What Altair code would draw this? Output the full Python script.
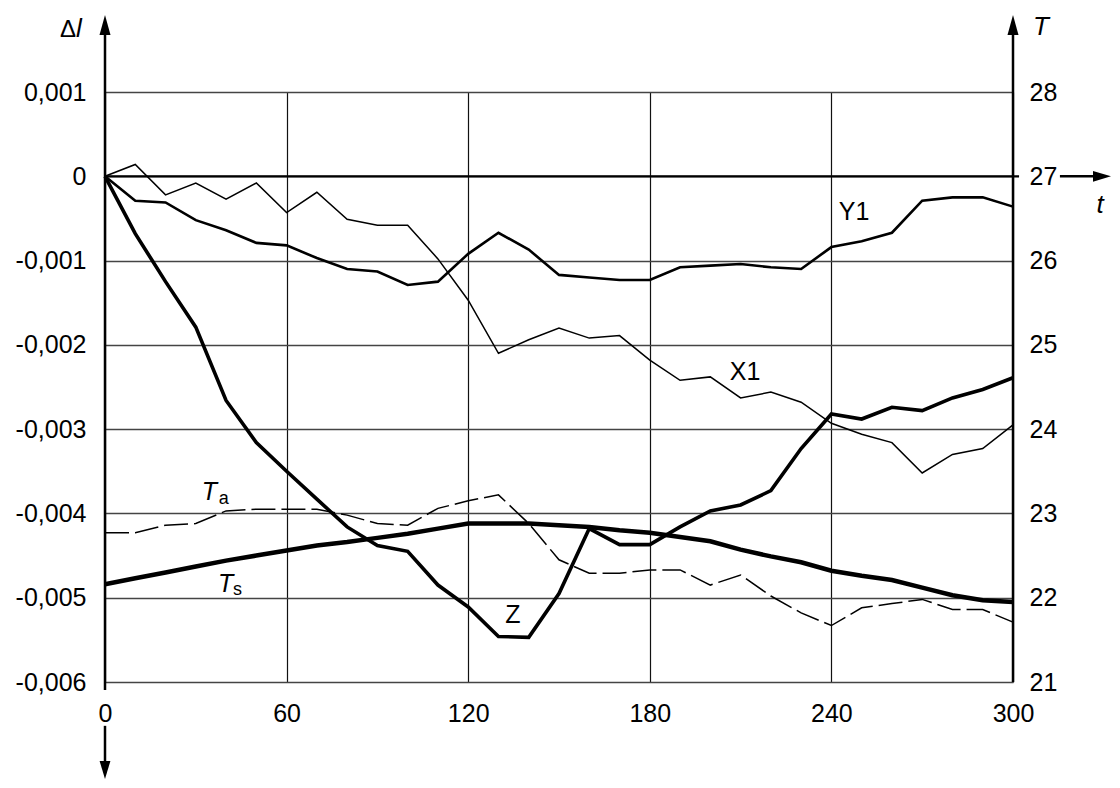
import altair as alt
import pandas as pd

# ---------------- data ----------------
t = [0, 10, 20, 30, 40, 50, 60, 70, 80, 90, 100, 110, 120, 130, 140, 150,
     160, 170, 180, 190, 200, 210, 220, 230, 240, 250, 260, 270, 280, 290, 300]

# displacement series, in units of 0.001
X1 = [0, 0.14, -0.22, -0.08, -0.27, -0.08, -0.43, -0.19, -0.51, -0.58, -0.58,
      -0.98, -1.47, -2.10, -1.94, -1.80, -1.92, -1.89, -2.18, -2.42, -2.38,
      -2.63, -2.56, -2.68, -2.93, -3.06, -3.16, -3.52, -3.30, -3.23, -2.95]
Y1 = [0, -0.29, -0.31, -0.52, -0.64, -0.79, -0.82, -0.97, -1.10, -1.13, -1.29,
      -1.25, -0.92, -0.67, -0.87, -1.17, -1.20, -1.23, -1.23, -1.08, -1.06,
      -1.04, -1.08, -1.10, -0.84, -0.77, -0.67, -0.29, -0.25, -0.25, -0.36]
Z = [0, -0.68, -1.25, -1.79, -2.66, -3.16, -3.50, -3.83, -4.16, -4.38, -4.45,
     -4.85, -5.11, -5.46, -5.47, -4.95, -4.18, -4.37, -4.37, -4.16, -3.97,
     -3.90, -3.73, -3.23, -2.82, -2.88, -2.74, -2.78, -2.63, -2.53, -2.39]

# temperature series (right axis)
Ta = [22.77, 22.77, 22.86, 22.88, 23.03, 23.05, 23.05, 23.05, 22.98, 22.88, 22.86,
      23.06, 23.15, 23.22, 22.88, 22.45, 22.29, 22.29, 22.33, 22.33, 22.15,
      22.27, 22.02, 21.82, 21.67, 21.88, 21.93, 21.98, 21.86, 21.86, 21.71]
Ts = [22.16, 22.23, 22.30, 22.37, 22.44, 22.50, 22.56, 22.62, 22.66, 22.71, 22.76,
      22.82, 22.88, 22.88, 22.88, 22.86, 22.84, 22.80, 22.77, 22.72, 22.67,
      22.57, 22.49, 22.42, 22.32, 22.26, 22.21, 22.12, 22.03, 21.97, 21.95]

x_ticks = [0, 60, 120, 180, 240, 300]
dl_ticks = [-0.006, -0.005, -0.004, -0.003, -0.002, -0.001, 0, 0.001]
T_ticks = [21, 22, 23, 24, 25, 26, 27, 28]

# ---------------- tables ----------------
left_long = pd.DataFrame(
    [{"t": a, "v": b * 0.001, "s": "X1"} for a, b in zip(t, X1)]
    + [{"t": a, "v": b * 0.001, "s": "Y1"} for a, b in zip(t, Y1)]
    + [{"t": a, "v": b * 0.001, "s": "Z"} for a, b in zip(t, Z)]
)
right_long = pd.DataFrame(
    [{"t": a, "T": b, "s": "Ta"} for a, b in zip(t, Ta)]
    + [{"t": a, "T": b, "s": "Ts"} for a, b in zip(t, Ts)]
)

# decorations in data units (axis lines extended past the frame, arrows)
rules = pd.DataFrame([
    {"t": 0, "t2": 0, "v": -0.006095, "v2": 0.0018, "w": 2.5},     # left axis
    {"t": 0, "t2": 0, "v": -0.00652, "v2": -0.00700, "w": 2.5},    # downward arrow stem
    {"t": 0, "t2": 302.0, "v": 0, "v2": 0, "w": 2.2},              # t axis (zero line)
    {"t": 315.5, "t2": 328.0, "v": 0, "v2": 0, "w": 2.5},          # t arrow stem
    {"t": 300, "t2": 300, "v": -0.006, "v2": 0.0018, "w": 2.5},    # right axis
])
up_heads = pd.DataFrame({"t": [0, 300], "v": [0.001795, 0.001795]})
down_heads = pd.DataFrame({"t": [0], "v": [-0.007044]})
right_heads = pd.DataFrame({"t": [329.4], "v": [0]})

left_texts_plain = pd.DataFrame({
    "t": [247.5, 211.5, 134.8],
    "v": [-0.000424, -0.002322, -0.005205],
    "txt": ["Y1", "X1", "Z"],
})
axis_titles_italic = pd.DataFrame({
    "t": [-9.6, 306.6, 327.6],
    "v": [0.00165, 0.00168, -0.000436],
    "txt": ["l", "T", "t"],
})
delta_title = pd.DataFrame({"t": [-14.9], "v": [0.00165], "txt": ["Δ"]})
T_labels_main = pd.DataFrame({"t": [31.95, 37.33], "T": [23.159, 22.068], "txt": ["T", "T"]})
T_labels_sub = pd.DataFrame({"t": [37.6, 42.3], "T": [23.112, 22.032], "txt": ["a", "s"]})

FONT = "Liberation Sans"

# ---------------- encodings ----------------
x_enc = alt.X("t:Q", scale=alt.Scale(domain=[0, 300], nice=False, zero=False),
              axis=alt.Axis(values=x_ticks, grid=True, ticks=False, domain=False,
                            labelPadding=19, title=None, gridColor="#111",
                            gridWidth=1.2, labelFlush=False, labelOverlap=False))
dl_scale = alt.Scale(domain=[-0.006, 0.001], nice=False, zero=False)
y_left = alt.Y("v:Q", scale=dl_scale,
               axis=alt.Axis(values=dl_ticks, grid=True, ticks=False, domain=False,
                             labelPadding=19, title=None, gridColor="#444",
                             gridWidth=1.3, labelFlush=False, labelOverlap=False,
                             labelExpr="datum.value == 0 ? '0' : (datum.value < 0 ? '-' : '') + replace(format(abs(datum.value), '.3f'), '.', ',')"))
T_scale = alt.Scale(domain=[21, 28], nice=False, zero=False)
y_right = alt.Y("T:Q", scale=T_scale,
                axis=alt.Axis(orient="right", values=T_ticks, grid=False, ticks=False,
                              domain=False, labelPadding=16, labelAlign="left",
                              title=None, labelFlush=False, labelOverlap=False,
                              format="d"))

# ---------------- left (Δl) group ----------------
base_left = alt.Chart(left_long)
line_styles = {"X1": 1.5, "Y1": 2.6, "Z": 3.6}
left_lines = [
    base_left.transform_filter(alt.datum.s == name)
    .mark_line(color="black", strokeWidth=w, strokeJoin="miter")
    .encode(x=x_enc, y=y_left)
    for name, w in line_styles.items()
]

rule_layer = alt.Chart(rules).mark_rule(color="black").encode(
    x=x_enc, x2="t2:Q", y=y_left, y2="v2:Q",
    strokeWidth=alt.StrokeWidth("w:Q", scale=None))

up_layer = alt.Chart(up_heads).mark_point(
    shape="M0,-1L0.55,1L-0.55,1Z", size=400, filled=True, color="black", opacity=1
).encode(x=x_enc, y=y_left)
down_layer = alt.Chart(down_heads).mark_point(
    shape="M0,1L0.6,-1L-0.6,-1Z", size=324, filled=True, color="black", opacity=1
).encode(x=x_enc, y=y_left)
right_layer = alt.Chart(right_heads).mark_point(
    shape="M1,0L-1,0.6L-1,-0.6Z", size=324, filled=True, color="black", opacity=1
).encode(x=x_enc, y=y_left)

series_text = alt.Chart(left_texts_plain).mark_text(
    font=FONT, fontSize=25, align="center", baseline="middle", color="black"
).encode(x=x_enc, y=y_left, text="txt:N")
italic_titles = alt.Chart(axis_titles_italic).mark_text(
    font=FONT, fontSize=26, fontStyle="italic", align="left", baseline="alphabetic",
    color="black"
).encode(x=x_enc, y=y_left, text="txt:N")
delta_text = alt.Chart(delta_title).mark_text(
    font=FONT, fontSize=24, align="left", baseline="alphabetic", color="black"
).encode(x=x_enc, y=y_left, text="txt:N")

left_group = alt.layer(*left_lines, rule_layer, up_layer, down_layer, right_layer,
                       series_text, italic_titles, delta_text)

# ---------------- right (T) group ----------------
base_right = alt.Chart(right_long)
ta_line = base_right.transform_filter(alt.datum.s == "Ta").mark_line(
    color="black", strokeWidth=1.5, strokeDash=[24, 6]
).encode(x=x_enc, y=y_right)
ts_line = base_right.transform_filter(alt.datum.s == "Ts").mark_line(
    color="black", strokeWidth=4.5
).encode(x=x_enc, y=y_right)
T_main = alt.Chart(T_labels_main).mark_text(
    font=FONT, fontSize=25, fontStyle="italic", align="left", baseline="alphabetic",
    color="black"
).encode(x=x_enc, y=y_right, text="txt:N")
T_sub = alt.Chart(T_labels_sub).mark_text(
    font=FONT, fontSize=18, align="left", baseline="alphabetic", color="black"
).encode(x=x_enc, y=y_right, text="txt:N")

right_group = alt.layer(ta_line, ts_line, T_main, T_sub)

chart = (
    alt.layer(left_group, right_group)
    .resolve_scale(y="independent")
    .properties(
        width=908, height=590,
        padding={"left": 97, "top": 84, "right": 99, "bottom": 98},
        autosize=alt.AutoSizeParams(type="none"),
        background="white",
    )
    .configure_view(stroke=None)
    .configure_axis(labelFont=FONT, labelFontSize=25, labelColor="black")
)

chart.save("out.html", embed_options={"renderer": "svg", "actions": False})
